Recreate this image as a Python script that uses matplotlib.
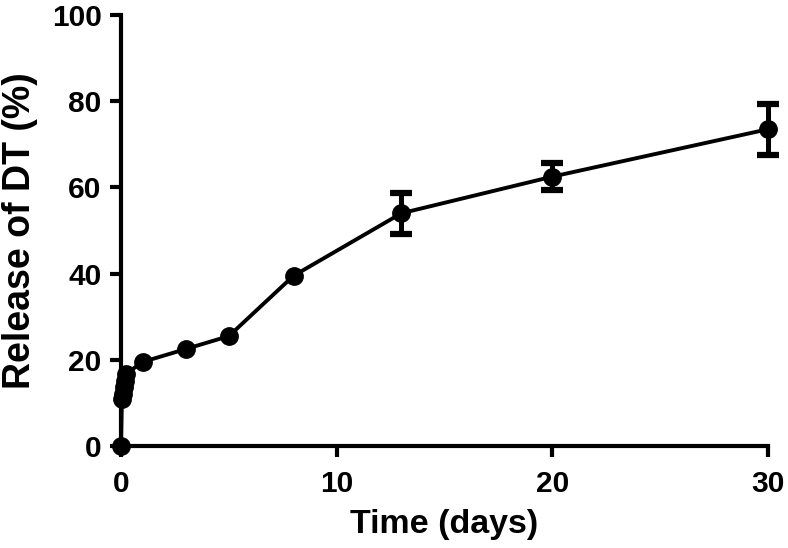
import matplotlib
matplotlib.use("Agg")
import matplotlib.pyplot as plt

# release data
time_days = [0, 0.04, 0.08, 0.125, 0.17, 0.25, 1, 3, 5, 8, 13, 20, 30]
release_pct = [0, 10.8, 12.0, 13.8, 15.2, 16.8, 19.5, 22.5, 25.5, 39.5, 54.0, 62.5, 73.5]
release_err = [0, 0, 0, 0, 0, 0, 0, 0, 0, 0, 4.7, 3.1, 5.9]

x_ticks = [0, 10, 20, 30]
y_ticks = [0, 20, 40, 60, 80, 100]

plt.rcParams["font.family"] = ["Liberation Sans", "DejaVu Sans"]
plt.rcParams["font.weight"] = "bold"

fig = plt.figure(figsize=(7.88, 5.48), dpi=100)
ax = fig.add_axes([0.1536, 0.1861, 0.8210, 0.7865])

ax.plot(time_days, release_pct, color="black", lw=2.8, marker="o",
        ms=12.5, clip_on=False, zorder=3)

# error bars only where the SD is visible
has_err = [e > 0 for e in release_err]
ex = [t for t, h in zip(time_days, has_err) if h]
ey = [r for r, h in zip(release_pct, has_err) if h]
ee = [e for e in release_err if e > 0]
eb = ax.errorbar(ex, ey, yerr=ee, fmt="none", ecolor="black", capsize=8,
                 capthick=4.5, elinewidth=3.6, zorder=3)
for art in eb.lines[1] + eb.lines[2]:
    art.set_clip_on(False)

ax.set_xlim(0, 30)
ax.set_ylim(0, 100)
ax.set_xticks(x_ticks)
ax.set_yticks(y_ticks)
for side in ("top", "right"):
    ax.spines[side].set_visible(False)
for side in ("left", "bottom"):
    ax.spines[side].set_linewidth(3)
ax.tick_params(width=3, length=8, labelsize=21.5)
ax.tick_params(axis="y", pad=6)
ax.tick_params(axis="x", pad=9)
for lab in ax.get_xticklabels() + ax.get_yticklabels():
    lab.set_fontweight("bold")

ax.set_xlabel("Time (days)", fontsize=24.5, fontweight="bold", labelpad=8)
ax.set_ylabel("Release of DT (%)", fontsize=27, fontweight="bold", labelpad=10)

fig.savefig("out.png", dpi=100)
